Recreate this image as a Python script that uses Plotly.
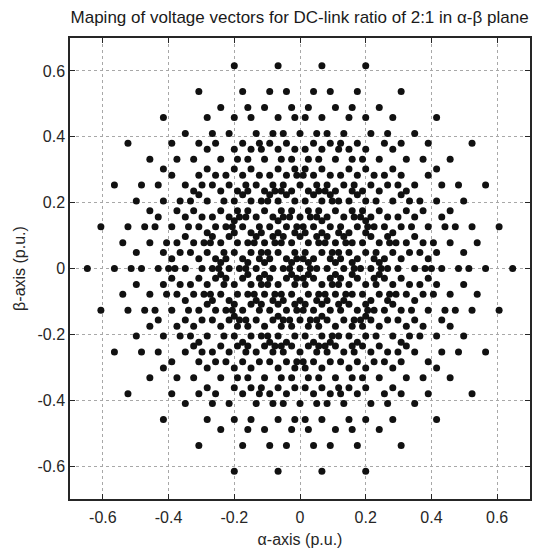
import itertools
import math
import plotly.graph_objects as go

# Five-phase system fed with DC-link ratio 2:1 -> four phase-voltage levels (p.u. of total DC)
phase_angles_deg = [0, 72, 144, 216, 288]
phase_levels = [0.0, 1 / 3, 2 / 3, 1.0]
clarke_gain = 2 / 5

tick_vals = [-0.6, -0.4, -0.2, 0, 0.2, 0.4, 0.6]
tick_text = ["-0.6", "-0.4", "-0.2", "0", "0.2", "0.4", "0.6"]

# Switching states -> alpha-beta voltage vectors (unique)
seen = set()
alpha, beta = [], []
for state in itertools.product(phase_levels, repeat=len(phase_angles_deg)):
    a = clarke_gain * sum(v * math.cos(math.radians(t)) for v, t in zip(state, phase_angles_deg))
    b = clarke_gain * sum(v * math.sin(math.radians(t)) for v, t in zip(state, phase_angles_deg))
    key = (round(a, 6), round(b, 6))
    if key not in seen:
        seen.add(key)
        alpha.append(a)
        beta.append(b)

FONT = "Liberation Sans, Arial"

fig = go.Figure()
fig.add_trace(go.Scatter(
    x=alpha, y=beta, mode="markers",
    marker=dict(size=7, color="#111111", line=dict(width=0)),
    showlegend=False,
))

axis_common = dict(
    range=[-0.7, 0.7], tickvals=tick_vals, ticktext=tick_text,
    showgrid=True, gridcolor="#a8a8a8", griddash="dot", gridwidth=1,
    zeroline=False, showline=True, linecolor="#262626", linewidth=1.5,
    mirror="allticks", ticks="inside", ticklen=5, tickcolor="#262626",
    tickfont=dict(family=FONT, size=16, color="#262626"),
)

fig.update_layout(
    width=534, height=548,
    margin=dict(l=70, r=2, t=38, b=49),
    paper_bgcolor="white", plot_bgcolor="white",
    title=dict(
        text="Maping of voltage vectors for DC-link ratio of 2:1 in α-β plane",
        x=0.561, xanchor="center", y=0.968, yanchor="middle",
        font=dict(family=FONT, size=17, color="#1a1a1a"),
    ),
    xaxis=dict(**axis_common, ticklabelstandoff=3,
               title=dict(text="α-axis (p.u.)", standoff=9,
                          font=dict(family=FONT, size=16, color="#262626"))),
    yaxis=dict(**axis_common,
               title=dict(text="β-axis (p.u.)", standoff=8,
                          font=dict(family=FONT, size=16, color="#262626"))),
)

fig.write_html("out.html")
